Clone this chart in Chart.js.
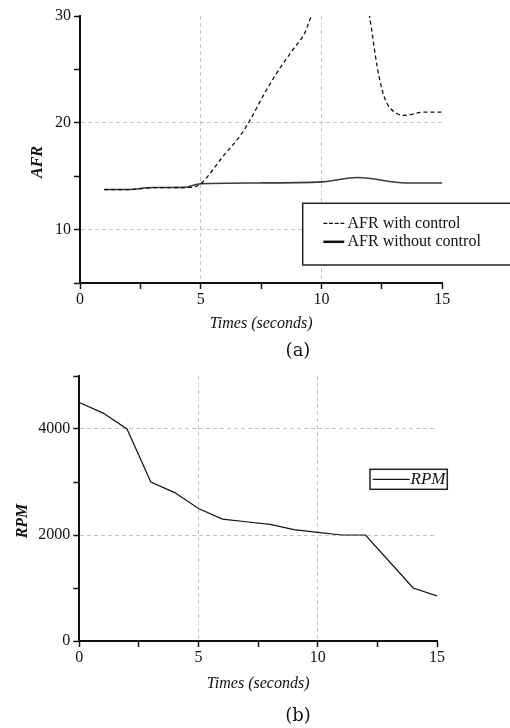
<!DOCTYPE html>
<html>
<head>
<meta charset="utf-8">
<script src="https://cdn.jsdelivr.net/npm/chart.js@4"></script>
<style>
  body { margin: 0; background: #fff; }
  canvas { position: absolute; left: 0; }
  #afr { top: 0; }
  #rpm { top: 360px; }
</style>
</head>
<body>
<canvas id="afr" width="510" height="360"></canvas>
<canvas id="rpm" width="510" height="368"></canvas>
<script>
// (a) AFR against time
const afrTimesWith = [1, 2, 3, 4, 4.6, 5, 5.9, 6.6, 7.0, 7.7, 8.3, 8.8, 9.3, 9.6, 10, 11, 11.8, 12.0, 12.3, 12.6, 13.1, 13.5, 14.2, 15];
const afrWithControl = [13.75, 13.75, 13.92, 13.94, 13.95, 14.3, 16.8, 18.7, 20.1, 23.0, 25.2, 26.8, 28.4, 30.1, 31.5, 34, 32, 29.8, 25.3, 22.4, 20.9, 20.7, 21.0, 21.0];
const afrTimesWithout = [1, 2, 3, 4.3, 5, 7.3, 10, 11.5, 13.5, 15];
const afrWithoutControl = [13.75, 13.75, 13.94, 13.94, 14.3, 14.37, 14.47, 14.88, 14.37, 14.37];
const afrLabels = ['AFR with control', 'AFR without control'];

// (b) RPM against time
const rpmTimes = [0, 1, 2, 3, 4, 5, 6, 7, 8, 9, 10, 11, 12, 13, 14, 15];
const rpmValues = [4500, 4300, 4000, 3000, 2800, 2500, 2300, 2250, 2200, 2100, 2050, 2000, 2000, 1500, 1000, 850];

const timeTicks = [0, 5, 10, 15];
const afrTicks = [10, 20, 30];
const rpmTicks = [0, 2000, 4000];

const serif = '"Liberation Serif", "Times New Roman", serif';
const gridGray = '#c4c4c4';
Chart.defaults.font.family = serif;
Chart.defaults.font.size = 16;
Chart.defaults.color = '#111';

function pts(xs, ys) {
  return xs.map((x, i) => ({ x: x, y: ys[i] }));
}

// only the inner major values get a dashed grid line
function innerGrid(majors, min, max) {
  return c => (c.tick && majors.includes(c.tick.value) && c.tick.value > min && c.tick.value < max) ? gridGray : 'transparent';
}

// legend in a white box, drawn over the plot
const boxLegend = {
  id: 'boxLegend',
  afterDatasetsDraw(chart, args, o) {
    const ctx = chart.ctx;
    ctx.save();
    ctx.fillStyle = '#fff';
    ctx.fillRect(o.left, o.top, o.width, o.height);
    ctx.lineWidth = 1.5;
    ctx.strokeStyle = '#222';
    ctx.strokeRect(o.left, o.top, o.width, o.height);
    ctx.font = o.font;
    ctx.textBaseline = 'middle';
    chart.data.datasets.forEach((ds, i) => {
      const y = o.top + o.firstRow + i * o.rowGap;
      ctx.beginPath();
      ctx.setLineDash(o.dashes[i]);
      ctx.lineWidth = o.widths[i];
      ctx.strokeStyle = '#111';
      ctx.moveTo(o.sampleX, y);
      ctx.lineTo(o.sampleX + o.sampleLen, y);
      ctx.stroke();
      ctx.setLineDash([]);
      ctx.fillStyle = '#111';
      ctx.fillText(ds.label, o.textX, y);
    });
    ctx.restore();
  }
};

// rotated y title and the (a)/(b) caption
const sideText = {
  id: 'sideText',
  afterDraw(chart, args, o) {
    const ctx = chart.ctx;
    ctx.save();
    ctx.fillStyle = '#111';
    ctx.textAlign = 'center';
    ctx.textBaseline = 'middle';
    ctx.font = 'italic bold 16px ' + serif;
    ctx.translate(o.yTitleX, o.yTitleY);
    ctx.rotate(-Math.PI / 2);
    ctx.fillText(o.yTitle, 0, 0);
    ctx.restore();
    ctx.save();
    ctx.fillStyle = '#111';
    ctx.textAlign = 'center';
    ctx.textBaseline = 'middle';
    ctx.font = '18px "DejaVu Serif", serif';
    ctx.fillText(o.caption, o.captionX, o.captionY);
    ctx.restore();
  }
};

function xAxis(height, titlePad) {
  return {
    type: 'linear', min: 0, max: 15,
    afterFit: s => { s.height = height; },
    ticks: {
      stepSize: 2.5, autoSkip: false, maxRotation: 0, padding: 1, color: '#111',
      callback: v => timeTicks.includes(v) ? v : ''
    },
    grid: { color: innerGrid(timeTicks, 0, 15), tickColor: '#111', tickWidth: 1.5, tickLength: 6 },
    border: { display: true, color: '#111', width: 2, dash: [4, 3] },
    title: { display: true, text: 'Times (seconds)', font: { style: 'italic', size: 16 }, padding: { top: 0, bottom: titlePad } }
  };
}

function yAxis(width, min, max, step, majors) {
  return {
    type: 'linear', min: min, max: max,
    afterFit: s => { s.width = width; },
    ticks: {
      stepSize: step, autoSkip: false, padding: 3, color: '#111',
      callback: v => majors.includes(v) ? v : ''
    },
    grid: { color: innerGrid(majors, min, max), tickColor: '#111', tickWidth: 1.5, tickLength: 6 },
    border: { display: true, color: '#111', width: 2, dash: [4, 3] }
  };
}

new Chart(document.getElementById('afr'), {
  type: 'line',
  data: {
    datasets: [{
      label: afrLabels[0],
      data: pts(afrTimesWith, afrWithControl),
      borderColor: '#111', borderWidth: 1.3, borderDash: [4, 3],
      pointRadius: 0, cubicInterpolationMode: 'monotone'
    }, {
      label: afrLabels[1],
      data: pts(afrTimesWithout, afrWithoutControl),
      borderColor: '#3a3a3a', borderWidth: 1.6,
      pointRadius: 0, cubicInterpolationMode: 'monotone'
    }]
  },
  options: {
    responsive: false, animation: false, devicePixelRatio: 1,
    layout: { padding: { left: 0, top: 16, right: 67.7, bottom: 0 } },
    scales: {
      x: xAxis(77, 27),
      y: yAxis(80, 5, 30, 5, afrTicks)
    },
    plugins: {
      legend: { display: false },
      tooltip: { enabled: false },
      boxLegend: {
        left: 302.7, top: 203.3, width: 220, height: 61.7,
        firstRow: 20, rowGap: 18.5, sampleX: 323.3, sampleLen: 21, textX: 347.5,
        dashes: [[4, 1.7], []], widths: [1.3, 2.5],
        font: '16px ' + serif
      },
      sideText: { yTitle: 'AFR', yTitleX: 38, yTitleY: 162, caption: '(a)', captionX: 298, captionY: 351 }
    }
  },
  plugins: [boxLegend, sideText]
});

new Chart(document.getElementById('rpm'), {
  type: 'line',
  data: {
    datasets: [{
      label: 'RPM',
      data: pts(rpmTimes, rpmValues),
      borderColor: '#111', borderWidth: 1.2,
      pointRadius: 0, tension: 0
    }]
  },
  options: {
    responsive: false, animation: false, devicePixelRatio: 1,
    layout: { padding: { left: 0, top: 16, right: 73, bottom: 0 } },
    scales: {
      x: xAxis(87, 35),
      y: yAxis(79.3, 0, 5000, 1000, rpmTicks)
    },
    plugins: {
      legend: { display: false },
      tooltip: { enabled: false },
      boxLegend: {
        left: 370, top: 109.3, width: 77.3, height: 20,
        firstRow: 10, rowGap: 18, sampleX: 372.7, sampleLen: 37, textX: 410.5,
        dashes: [[]], widths: [1.2],
        font: 'italic 17px ' + serif
      },
      sideText: { yTitle: 'RPM', yTitleX: 23.3, yTitleY: 161, caption: '(b)', captionX: 298, captionY: 356 }
    }
  },
  plugins: [boxLegend, sideText]
});
</script>
</body>
</html>
